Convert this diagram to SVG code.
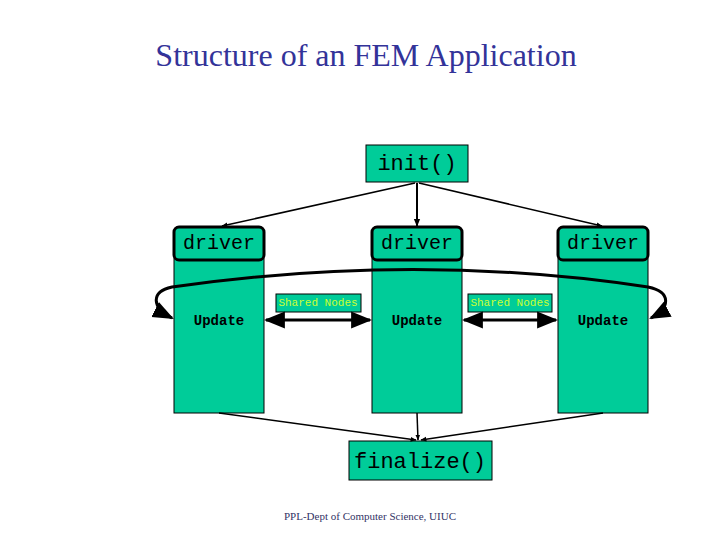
<svg xmlns="http://www.w3.org/2000/svg" width="720" height="540" viewBox="0 0 720 540">
<defs>
<style>
.n{fill:#00cc99;stroke:#000;stroke-width:1}
.d{fill:#00cc99;stroke:#000;stroke-width:3}
.m{font-family:"Liberation Mono",monospace;fill:#000}
.c{stroke:#000;fill:none}
</style>
<marker id="a" viewBox="0 0 10 10" refX="9" refY="5" markerWidth="7" markerHeight="7" orient="auto-start-reverse"><path d="M0,1 L10,5 L0,9 Z" fill="#000"/></marker>
<marker id="b" viewBox="0 0 10 10" refX="9" refY="5" markerWidth="4" markerHeight="4" orient="auto-start-reverse"><path d="M0,1 L10,5 L0,9 Z" fill="#000"/></marker>
</defs>
<rect width="720" height="540" fill="#fff"/>
<text x="366" y="66" text-anchor="middle" font-family="Liberation Serif,serif" font-size="32" fill="#333399">Structure of an FEM Application</text>
<g id="init"><rect class="n" x="366" y="145" width="102" height="37"/><text class="m" x="417" y="170" text-anchor="middle" font-size="22">init()</text></g>
<g id="col1"><rect class="n" x="174" y="258" width="90" height="155"/><rect class="d" x="174" y="227" width="90" height="33" rx="5"/><text class="m" x="219" y="249" text-anchor="middle" font-size="20">driver</text><text class="m" x="219" y="325" text-anchor="middle" font-size="14" font-weight="bold">Update</text></g>
<g id="col2"><rect class="n" x="372" y="258" width="90" height="155"/><rect class="d" x="372" y="227" width="90" height="33" rx="5"/><text class="m" x="417" y="249" text-anchor="middle" font-size="20">driver</text><text class="m" x="417" y="325" text-anchor="middle" font-size="14" font-weight="bold">Update</text></g>
<g id="col3"><rect class="n" x="558" y="258" width="90" height="155"/><rect class="d" x="558" y="227" width="90" height="33" rx="5"/><text class="m" x="603" y="249" text-anchor="middle" font-size="20">driver</text><text class="m" x="603" y="325" text-anchor="middle" font-size="14" font-weight="bold">Update</text></g>
<g id="shared1"><rect class="n" x="276" y="294" width="85" height="18"/><text x="318" y="306" text-anchor="middle" font-family="Liberation Mono,monospace" font-size="11" fill="#ccff33">Shared Nodes</text></g>
<g id="shared2"><rect class="n" x="468" y="294" width="84" height="18"/><text x="510" y="306" text-anchor="middle" font-family="Liberation Mono,monospace" font-size="11" fill="#ccff33">Shared Nodes</text></g>
<g id="finalize"><rect class="n" x="349" y="441" width="143" height="39"/><text class="m" x="420" y="468" text-anchor="middle" font-size="22">finalize()</text></g>
<text x="370" y="520" text-anchor="middle" font-family="Liberation Serif,serif" font-size="11" fill="#333366">PPL-Dept of Computer Science, UIUC</text>
<g id="connectors">
<path class="c" stroke-width="1.5" d="M415,183 L222,226" marker-end="url(#b)"/>
<path class="c" stroke-width="2" d="M417,183 L417,226" marker-end="url(#b)"/>
<path class="c" stroke-width="1.5" d="M419,183 L602,226" marker-end="url(#b)"/>
<path class="c" stroke-width="3" d="M266,320 L370,320" marker-start="url(#a)" marker-end="url(#a)"/>
<path class="c" stroke-width="3" d="M464,320 L556,320" marker-start="url(#a)" marker-end="url(#a)"/>
<path class="c" stroke-width="3" d="M172,318 C152,308 150,292 172,287 Q416,252 648,287 C672,292 670,308 651,318" marker-start="url(#a)" marker-end="url(#a)"/>
<path class="c" stroke-width="1.5" d="M219,413 L416,440" marker-end="url(#b)"/>
<path class="c" stroke-width="1.5" d="M417,413 L418,440" marker-end="url(#b)"/>
<path class="c" stroke-width="1.5" d="M603,413 L421,440" marker-end="url(#b)"/>
</g>
</svg>
